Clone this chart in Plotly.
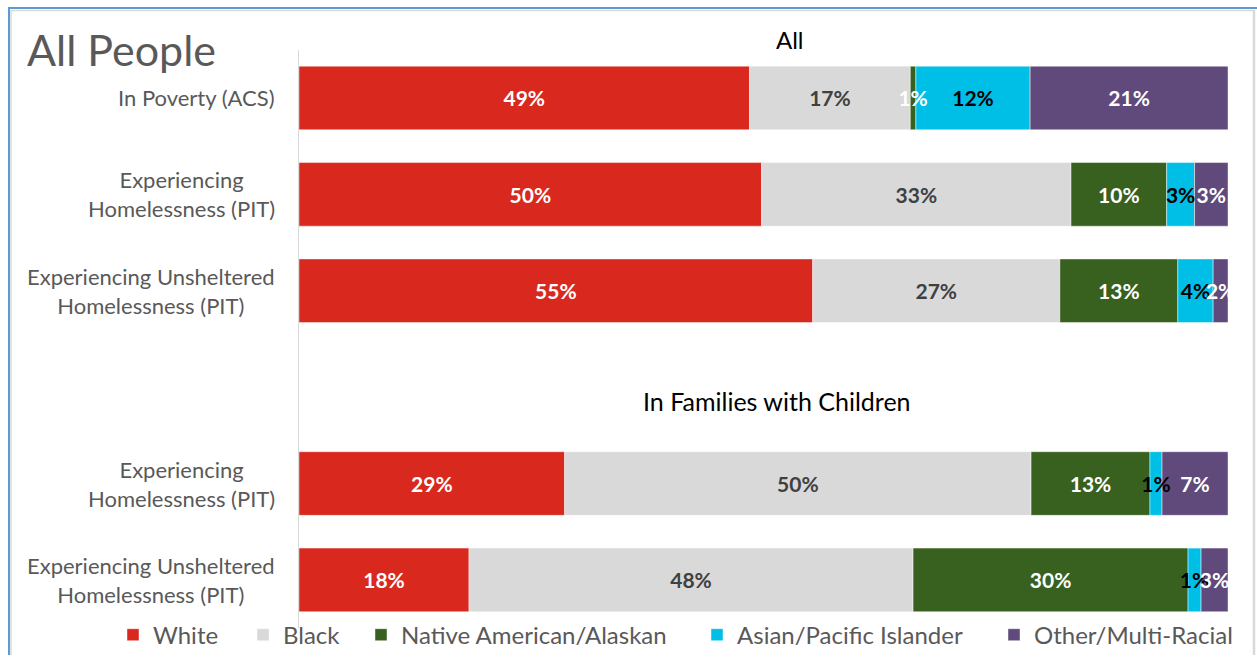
import numpy as np
import plotly.graph_objects as go

# ---- data ----
row_ids = ["poverty_all", "homeless_all", "unsheltered_all", "gap", "homeless_fam", "unsheltered_fam"]
row_labels = ["In Poverty (ACS)", "Experiencing<br>Homelessness (PIT)",
              "Experiencing Unsheltered<br>Homelessness (PIT)", "",
              "Experiencing<br>Homelessness (PIT)", "Experiencing Unsheltered<br>Homelessness (PIT)"]
bar_rows = ["poverty_all", "homeless_all", "unsheltered_all", "homeless_fam", "unsheltered_fam"]

series_names = ["White", "Black", "Native American/Alaskan", "Asian/Pacific Islander", "Other/Multi-Racial"]
white = [48.5, 49.8, 55.3, 28.6, 18.3]
black = [17.3, 33.3, 26.6, 50.2, 47.8]
native = [0.6, 10.3, 12.7, 12.8, 29.6]
asian = [12.3, 3.0, 3.8, 1.3, 1.4]
other = [21.3, 3.6, 1.6, 7.1, 2.9]

white_lbl = ["49%", "50%", "55%", "29%", "18%"]
black_lbl = ["17%", "33%", "27%", "50%", "48%"]
native_lbl = ["1%", "10%", "13%", "13%", "30%"]
asian_lbl = ["12%", "3%", "4%", "1%", "1%"]
other_lbl = ["21%", "3%", "2%", "7%", "3%"]

# ---- styles ----
W, H = 1257, 658
colors = ["#D9291E", "#D9D9D9", "#38611F", "#00BFE7", "#604A7B"]
text_colors = ["#FFFFFF", "#404040", "#FFFFFF", "#000000", "#FFFFFF"]
FONT = "Lato"
legend_px = [127, 257, 375, 711, 1008]   # left edge of each legend swatch (px)
SWATCH_OFFSET = 14

def px(x):
    return x / W

def py(y):
    return 1 - y / H

series = [white, black, native, asian, other]
labels = [white_lbl, black_lbl, native_lbl, asian_lbl, other_lbl]
legend_ids = ["legend", "legend2", "legend3", "legend4", "legend5"]

fig = go.Figure()
bases = np.cumsum([np.zeros(len(white))] + [np.array(s) for s in series[:-1]], axis=0)

for name, vals, base, col, lid in zip(series_names, series, bases, colors, legend_ids):
    fig.add_trace(go.Bar(
        y=bar_rows, x=vals, base=base, orientation="h", name=name, legend=lid,
        marker=dict(color=col, line=dict(color="rgba(255,255,255,0.45)", width=1)),
        width=0.66, hoverinfo="skip",
    ))

# text layer on top of all bars
for name, vals, base, lbl, tc in zip(series_names, series, bases, labels, text_colors):
    fig.add_trace(go.Bar(
        y=bar_rows, x=vals, base=base, orientation="h", name=name + " labels",
        marker=dict(color="rgba(0,0,0,0)", line=dict(width=0)),
        width=0.66, text=lbl, textposition="inside", insidetextanchor="middle",
        constraintext="none", textangle=0,
        textfont=dict(family=FONT, size=21, color=tc, weight="bold"),
        showlegend=False, hoverinfo="skip",
    ))

annotations = []
for rid, lab in zip(row_ids, row_labels):
    if lab:
        annotations.append(dict(
            x=px(277), xref="paper", y=rid, yref="y", text=lab, showarrow=False,
            xanchor="right", yanchor="middle", align="center",
            font=dict(family=FONT, size=22, color="#595959"),
        ))

annotations += [
    dict(x=px(25), xref="paper", y=py(50), yref="paper", text="All People", showarrow=False,
         xanchor="left", yanchor="middle", font=dict(family=FONT, size=43, color="#595959")),
    dict(x=px(790), xref="paper", y=py(40), yref="paper", text="All", showarrow=False,
         xanchor="center", yanchor="middle", font=dict(family=FONT, size=24, color="#000000")),
    dict(x=px(777), xref="paper", y=py(403), yref="paper", text="In Families with Children",
         showarrow=False, xanchor="center", yanchor="middle",
         font=dict(family=FONT, size=25, color="#000000")),
]

shapes = [
    dict(type="line", xref="paper", yref="paper", x0=px(9), x1=1.0, y0=py(8), y1=py(8),
         line=dict(color="#5B9BD5", width=2)),
    dict(type="line", xref="paper", yref="paper", x0=px(9), x1=px(9), y0=py(7), y1=0,
         line=dict(color="#5B9BD5", width=2)),
    dict(type="line", xref="paper", yref="paper", x0=px(11), x1=px(1254), y0=py(10.5), y1=py(10.5),
         line=dict(color="#D9D9D9", width=1.5)),
    dict(type="line", xref="paper", yref="paper", x0=px(11), x1=px(11), y0=py(10), y1=0,
         line=dict(color="#D9D9D9", width=1.5)),
    dict(type="line", xref="paper", yref="paper", x0=px(1254), x1=px(1254), y0=py(10), y1=0,
         line=dict(color="#D9D9D9", width=2.5)),
]

layout_legends = {}
for lid, lx in zip(legend_ids, legend_px):
    layout_legends[lid] = dict(
        orientation="h", x=px(lx - SWATCH_OFFSET), xanchor="left", y=py(638), yanchor="middle",
        font=dict(family=FONT, size=24, color="#595959"), itemwidth=30,
        bgcolor="rgba(0,0,0,0)",
    )

fig.update_layout(
    width=W, height=H,
    margin=dict(l=0, r=0, t=0, b=0),
    barmode="overlay",
    paper_bgcolor="white", plot_bgcolor="white",
    xaxis=dict(range=[0, 100], visible=False, fixedrange=True, domain=[px(299), px(1228)]),
    yaxis=dict(type="category", categoryorder="array", categoryarray=row_ids,
               range=[5.5, -0.5], showticklabels=False, showgrid=False,
               showline=True, linecolor="#D9D9D9", linewidth=1, ticks="", zeroline=False,
               domain=[py(631), py(50)]),
    annotations=annotations, shapes=shapes,
    font=dict(family=FONT),
    showlegend=True,
    **layout_legends,
)

fig.write_html("out.html", config={"displayModeBar": False},
               post_script="document.body.style.margin='0';document.body.style.overflow='hidden';")
